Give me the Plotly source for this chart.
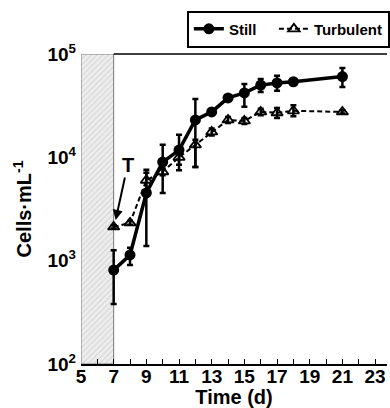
import plotly.graph_objects as go

days = [7, 8, 9, 10, 11, 12, 13, 14, 15, 16, 17, 18, 21]
still = [810, 1135, 4520, 9000, 11750, 23000, 27500, 37600, 42000, 50000, 52500, 53900, 60500]
still_hi = [1260, 1330, 7080, 13200, 16500, 36700, 29000, 39500, 51300, 57400, 61600, 55000, 73300]
still_lo = [380, 910, 1390, 4520, 8500, 8070, 26000, 35500, 30800, 42900, 44000, 52800, 47900]

turb = [2120, 2320, 6000, 7250, 10000, 13200, 17600, 23000, 22500, 27500, 27000, 28200, 27500]
turb_hi = [2200, 2420, 7600, 7800, 12500, 14800, 19000, 24500, 24000, 29500, 30000, 32000, 28500]
turb_lo = [2050, 2230, 4800, 6700, 7500, 8070, 16300, 21500, 21000, 25500, 24000, 25000, 26500]

shade_x = [5, 7, 7, 5, 5]
shade_y = [100, 100, 100000, 100000, 100]

xticks = [5, 7, 9, 11, 13, 15, 17, 19, 21, 23]
yticks = [100, 1000, 10000, 100000]
yticktext = ["10<sup>2</sup>", "10<sup>3</sup>", "10<sup>4</sup>", "10<sup>5</sup>"]
x_range = [5, 23.73]

FONT = "Liberation Sans, Arial, sans-serif"

fig = go.Figure()

fig.add_trace(go.Scatter(
    x=shade_x, y=shade_y, fill="toself", mode="lines",
    line=dict(color="#777777", width=1),
    fillcolor="#eeeeee",
    fillpattern=dict(shape="/", bgcolor="#eeeeee", fgcolor="#b5b5b5", size=4, solidity=0.25),
    showlegend=False, hoverinfo="skip"))

fig.add_trace(go.Scatter(
    x=days, y=still, name="Still\u00a0\u00a0\u00a0", mode="lines+markers",
    line=dict(color="black", width=3.5),
    marker=dict(symbol="circle", size=11, color="black"),
    error_y=dict(type="data", symmetric=False,
                 array=[h - v for h, v in zip(still_hi, still)],
                 arrayminus=[v - l for v, l in zip(still, still_lo)],
                 color="black", thickness=2.5, width=3)))

fig.add_trace(go.Scatter(
    x=days, y=turb, name="Turbulent", mode="lines+markers",
    line=dict(color="black", width=2, dash="5px,3px"),
    marker=dict(symbol="triangle-up-open", size=10, color="black", line=dict(width=1.8)),
    error_y=dict(type="data", symmetric=False,
                 array=[h - v for h, v in zip(turb_hi, turb)],
                 arrayminus=[v - l for v, l in zip(turb, turb_lo)],
                 color="black", thickness=2.5, width=3)))

fig.add_annotation(x=7.12, y=3.394, xref="x", yref="y", text="<b>T</b>",
                   showarrow=True, ax=12, ay=-55, arrowhead=2, arrowsize=1,
                   arrowwidth=2, arrowcolor="black",
                   font=dict(family=FONT, size=20, color="black"))

# top frame line (starts at the end of the shaded period)
fig.add_shape(type="line", xref="x", yref="paper", x0=shade_x[1], x1=x_range[1], y0=1, y1=1,
              line=dict(color="black", width=1.5))

fig.update_layout(
    width=390, height=408,
    margin=dict(l=81, r=0, t=54, b=44),
    paper_bgcolor="white", plot_bgcolor="white",
    font=dict(family=FONT, color="black"),
    legend=dict(orientation="h", x=0.346, y=1.14, xanchor="left", yanchor="top",
                bordercolor="black", borderwidth=2, bgcolor="white",
                font=dict(family=FONT, size=15, weight="bold"),
                itemwidth=30, tracegroupgap=0),
    xaxis=dict(range=x_range, tickvals=xticks, ticks="inside", ticklen=5,
               tickcolor="black", tickwidth=1.2,
               minor=dict(dtick=1, ticks="inside", ticklen=5, tickcolor="black", tickwidth=1.2),
               showline=True, linecolor="black", linewidth=1.5, mirror=False,
               showgrid=False, zeroline=False,
               ticklabelstandoff=-6,
               tickfont=dict(family=FONT, size=19, weight="bold"),
               title=dict(text="Time (d)", font=dict(family=FONT, size=20, weight="bold"), standoff=0)),
    yaxis=dict(type="log", range=[2, 5], tickvals=yticks, ticktext=yticktext,
               ticks="", showline=False, showgrid=False, zeroline=False,
               ticklabelstandoff=4,
               tickfont=dict(family=FONT, size=19, weight="bold"),
               title=dict(text="Cells·mL<sup>-1</sup>", font=dict(family=FONT, size=20, weight="bold"), standoff=10)),
)

fig.write_html("out.html")
